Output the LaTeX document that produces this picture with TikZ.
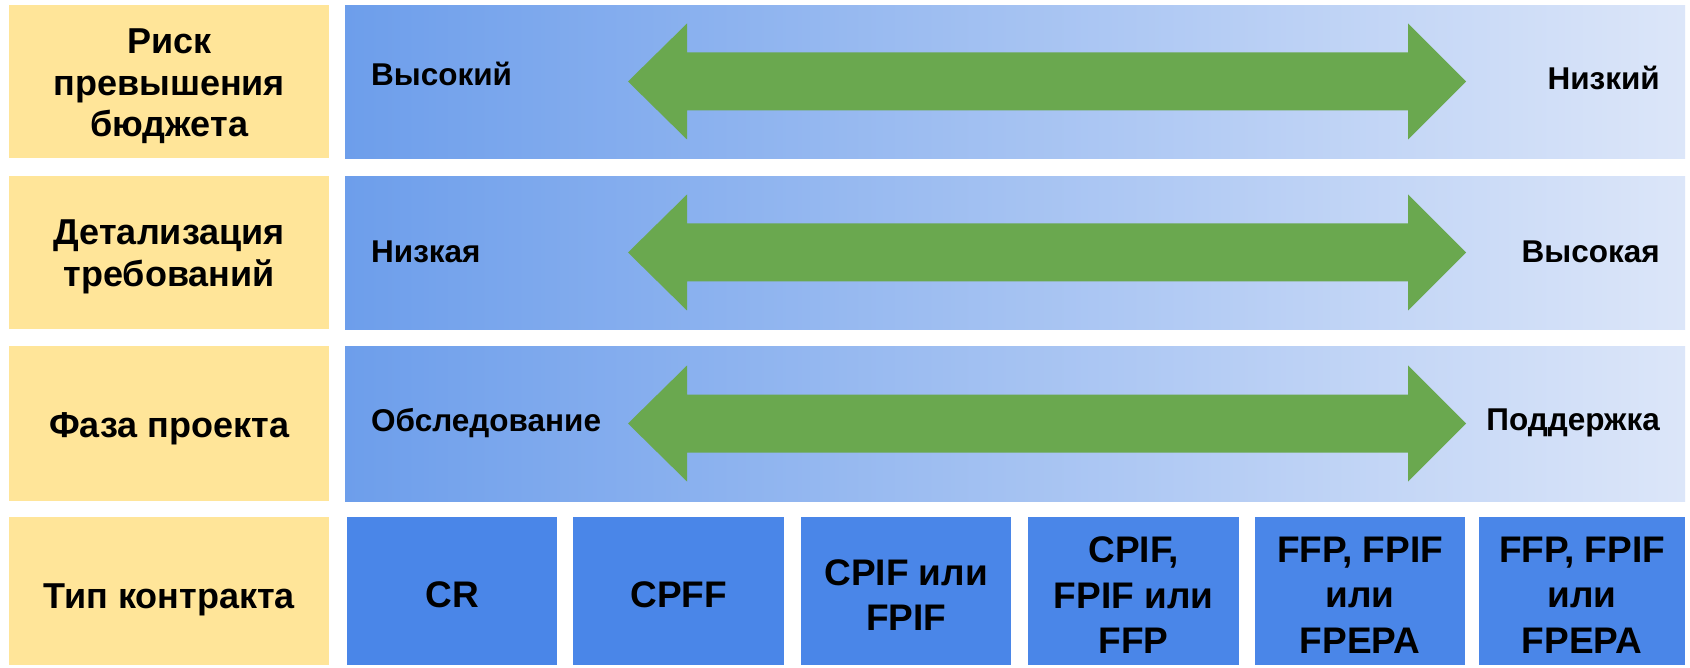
\documentclass[tikz,border=0pt]{standalone}
\usepackage{fontspec}
\setmainfont{Liberation Sans}
\definecolor{lbl}{HTML}{FFE599}
\definecolor{gL}{HTML}{6D9EEB}
\definecolor{gR}{HTML}{DCE6F9}
\definecolor{ctr}{HTML}{4A86E8}
\definecolor{agreen}{HTML}{6AA84F}
\tikzset{
  labelbox/.style={fill=lbl, anchor=north west, inner sep=0pt},
  labeltext/.style={inner sep=0pt, align=center,
    font=\fontsize{36}{41.5}\selectfont\bfseries},
  bandbox/.style={left color=gL, right color=gR, anchor=north west, inner sep=0pt, draw=none},
  ctrbox/.style={fill=ctr, anchor=north west, inner sep=0pt,
    minimum width=210pt, minimum height=148pt},
  ctrtext/.style={inner sep=0pt, align=center, yshift=-4pt,
    font=\fontsize{37}{45.5}\selectfont\bfseries},
  endtext/.style={inner sep=0pt, font=\fontsize{31.5}{34}\selectfont\bfseries},
}
\begin{document}
\begin{tikzpicture}[x=1pt,y=-1pt]
\useasboundingbox[fill=white] (0,0) rectangle (1690,668);
% label column
\node[labelbox, minimum width=320pt, minimum height=153pt] (l1) at (9,5) {};
\node[labelbox, minimum width=320pt, minimum height=153pt] (l2) at (9,176) {};
\node[labelbox, minimum width=320pt, minimum height=155pt] (l3) at (9,346) {};
\node[labelbox, minimum width=320pt, minimum height=148pt] (l4) at (9,517) {};
\node[labeltext, yshift=-5pt] (t1) at (l1.center) {Риск\\превышения\\бюджета};
\node[labeltext, yshift=-4pt] (t2) at (l2.center) {Детализация\\требований};
\node[labeltext, yshift=-5pt] (t3) at (l3.center) {Фаза проекта};
\node[labeltext, yshift=-9pt] (t4) at (l4.center) {Тип контракта};
% gradient bands
\node[bandbox, minimum width=1340pt, minimum height=153pt] (b1) at (345,5) {};
\node[bandbox, minimum width=1340pt, minimum height=153pt] (b2) at (345,176) {};
\node[bandbox, minimum width=1340pt, minimum height=155pt] (b3) at (345,346) {};
% double arrows
\foreach \c in {81.5,252.5,423.5}{
  \fill[agreen] (628,\c) -- (687,\c-58) -- (687,\c-29) -- (1408,\c-29) -- (1408,\c-58)
    -- (1466,\c) -- (1408,\c+58) -- (1408,\c+29) -- (687,\c+29) -- (687,\c+58) -- cycle;
}
% band end texts
\node[endtext, anchor=west] (h1) at (371,74) {Высокий};
\node[endtext, anchor=east] (e1) at (1660,78) {Низкий};
\node[endtext, anchor=west] (h2) at (371,252) {Низкая};
\node[endtext, anchor=east] (e2) at (1660,252) {Высокая};
\node[endtext, anchor=west] (h3) at (371,423) {Обследование};
\node[endtext, anchor=east] (e3) at (1660,423) {Поддержка};
% contract types
\node[ctrbox] (c1) at (347,517) {};
\node[ctrbox, minimum width=211pt] (c2) at (573,517) {};
\node[ctrbox] (c3) at (801,517) {};
\node[ctrbox, minimum width=211pt] (c4) at (1028,517) {};
\node[ctrbox] (c5) at (1255,517) {};
\node[ctrbox, minimum width=206pt] (c6) at (1479,517) {};
\node[ctrtext] (d1) at (c1.center) {CR};
\node[ctrtext] (d2) at (c2.center) {CPFF};
\node[ctrtext] (d3) at (c3.center) {CPIF или\\FPIF};
\node[ctrtext] (d4) at (c4.center) {CPIF,\\FPIF или\\FFP};
\node[ctrtext] (d5) at (c5.center) {FFP, FPIF\\или\\FPEPA};
\node[ctrtext] (d6) at (c6.center) {FFP, FPIF\\или\\FPEPA};
\end{tikzpicture}
\end{document}
